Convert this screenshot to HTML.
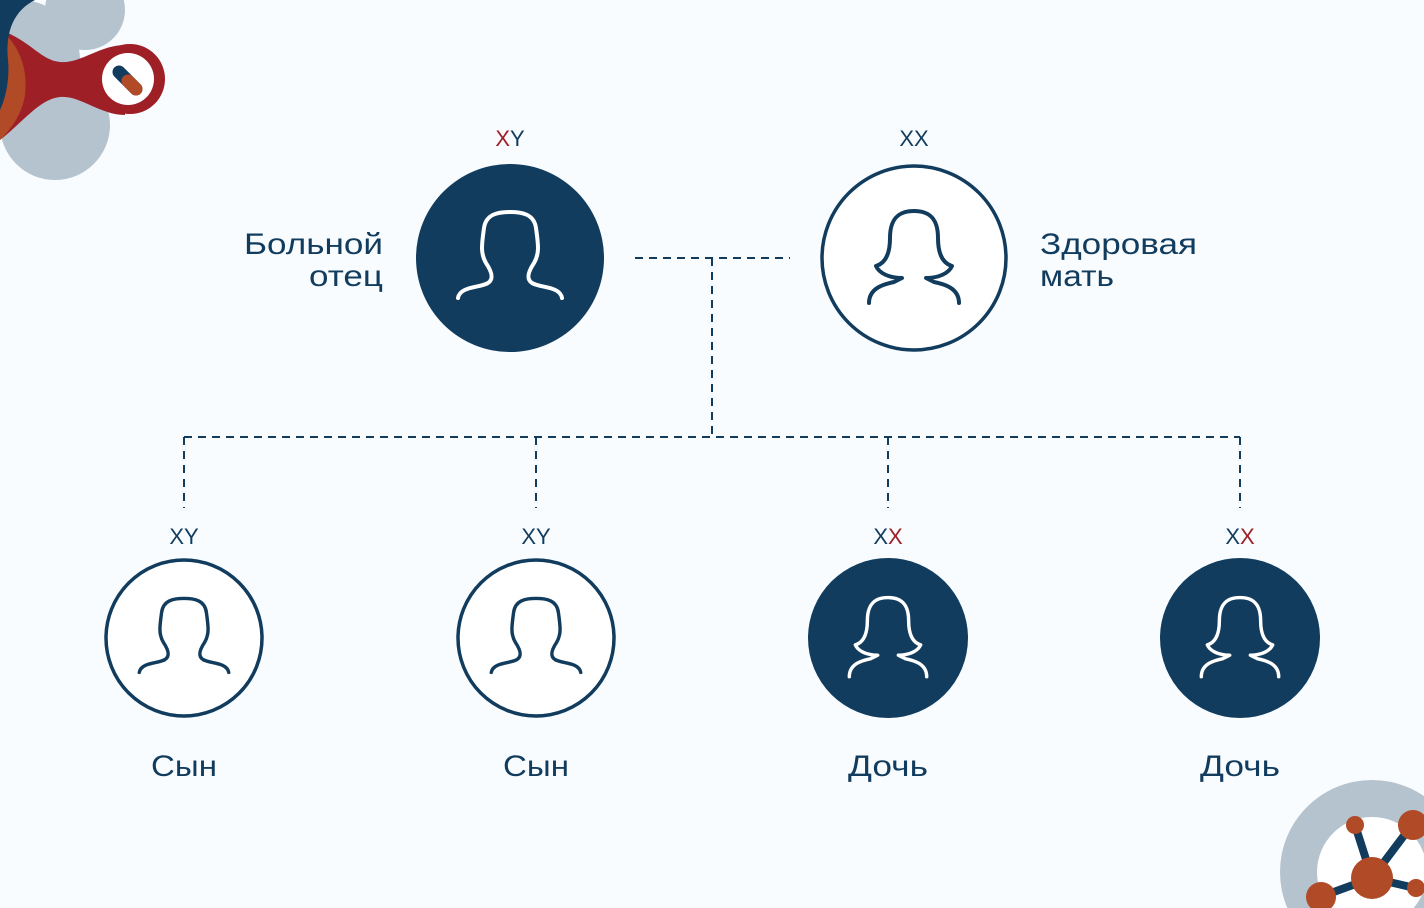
<!DOCTYPE html>
<html><head><meta charset="utf-8"><style>
html,body{margin:0;padding:0;background:#f8fcff;width:1424px;height:908px;overflow:hidden;}
svg{display:block;}
text{font-family:"Liberation Sans",sans-serif;fill:#123c5e;}
</style></head><body>
<svg width="1424" height="908" viewBox="0 0 1424 908" xmlns="http://www.w3.org/2000/svg">
<defs>
<path id="fem" d="M -45,45 C -45,30 -30,26 -20,24 L -12,20 C -25,20 -35,15 -38,8 C -28,5 -24,-5 -24,-20 C -24,-40 -15,-47 0,-47 C 15,-47 24,-40 24,-20 C 24,-5 28,5 38,8 C 35,15 25,20 12,20 L 20,24 C 30,26 45,30 45,45" fill="none" stroke-width="4" stroke-linecap="round" stroke-linejoin="round"/>
<path id="mal" d="M -52,40 C -50,28 -30,30 -22,25 C -16,21 -18,14 -24,5 C -30,-5 -28,-15 -26,-30 C -24,-44 -12,-46 0,-46 C 12,-46 24,-44 26,-30 C 28,-15 30,-5 24,5 C 18,14 16,21 22,25 C 30,30 50,28 52,40" fill="none" stroke-width="4" stroke-linecap="round" stroke-linejoin="round"/>
</defs>
<circle cx="85" cy="10" r="40" fill="#b5c3cf"/>
<circle cx="55" cy="125" r="55" fill="#b5c3cf"/>
<circle cx="20" cy="60" r="60" fill="#b5c3cf"/>
<path d="M0,30 C30,40 40,60 60,62 C80,64 100,45 125,45 L125,115 C100,115 80,95 60,97 C40,99 25,120 0,140 Z" fill="#9e1f26"/>
<path d="M0,30 C20,45 28,70 25,95 C22,115 10,130 0,140 Z" fill="#b04a27"/>
<path d="M0,0 L35,0 C15,10 5,30 8,60 C10,80 5,100 0,110 Z" fill="#123c5e"/>
<circle cx="130" cy="79" r="35" fill="#9e1f26"/>
<circle cx="128" cy="79" r="26" fill="#ffffff"/>
<line x1="119" y1="72" x2="136" y2="89" stroke="#123c5e" stroke-width="13" stroke-linecap="round"/>
<line x1="128" y1="81" x2="136" y2="89" stroke="#b04a27" stroke-width="13" stroke-linecap="round"/>
<circle cx="1372" cy="872" r="92" fill="#b5c3cf"/>
<circle cx="1372" cy="872" r="55" fill="#ffffff"/>
<g stroke="#123c5e" stroke-width="8">
<line x1="1372" y1="878" x2="1355" y2="825"/>
<line x1="1372" y1="878" x2="1412" y2="825"/>
<line x1="1372" y1="878" x2="1320" y2="897"/>
<line x1="1372" y1="878" x2="1415" y2="888"/>
</g>
<g fill="#b04a27">
<circle cx="1372" cy="878" r="21"/>
<circle cx="1355" cy="825" r="9"/>
<circle cx="1413" cy="825" r="15"/>
<circle cx="1321" cy="897" r="15"/>
<circle cx="1416" cy="888" r="9"/>
</g>
<g stroke="#123c5e" stroke-width="2" stroke-dasharray="8,6" fill="none">
<line x1="635" y1="258" x2="790" y2="258"/>
<line x1="712" y1="258" x2="712" y2="437"/>
<line x1="184" y1="437" x2="1240" y2="437"/>
<line x1="184" y1="437" x2="184" y2="508"/>
<line x1="536" y1="437" x2="536" y2="508"/>
<line x1="888" y1="437" x2="888" y2="508"/>
<line x1="1240" y1="437" x2="1240" y2="508"/>
</g>
<circle cx="510" cy="258" r="94" fill="#123c5e"/>
<use href="#mal" x="510" y="258" stroke="#ffffff"/>
<circle cx="914" cy="258" r="92" fill="#fff" stroke="#123c5e" stroke-width="3.5"/>
<use href="#fem" x="914" y="258" stroke="#123c5e"/>
<circle cx="184" cy="638" r="78" fill="#fff" stroke="#123c5e" stroke-width="3.5"/>
<use href="#mal" transform="translate(184,638) scale(0.86)" stroke="#123c5e"/>
<circle cx="536" cy="638" r="78" fill="#fff" stroke="#123c5e" stroke-width="3.5"/>
<use href="#mal" transform="translate(536,638) scale(0.86)" stroke="#123c5e"/>
<circle cx="888" cy="638" r="80" fill="#123c5e"/>
<use href="#fem" transform="translate(888,638) scale(0.86)" stroke="#fff"/>
<circle cx="1240" cy="638" r="80" fill="#123c5e"/>
<use href="#fem" transform="translate(1240,638) scale(0.86)" stroke="#fff"/>
<g font-size="22" text-anchor="middle">
<text x="510" y="146"><tspan style="fill:#9e1f26">X</tspan>Y</text>
<text x="914" y="146">XX</text>
<text x="184" y="544">XY</text>
<text x="536" y="544">XY</text>
<text x="888" y="544">X<tspan style="fill:#9e1f26">X</tspan></text>
<text x="1240" y="544">X<tspan style="fill:#9e1f26">X</tspan></text>
</g>
<g font-size="30">
<text x="244" y="254" textLength="139" lengthAdjust="spacingAndGlyphs">Больной</text>
<text x="309" y="286" textLength="74" lengthAdjust="spacingAndGlyphs">отец</text>
<text x="1040" y="254" textLength="157" lengthAdjust="spacingAndGlyphs">Здоровая</text>
<text x="1040" y="286" textLength="74" lengthAdjust="spacingAndGlyphs">мать</text>
<text x="151" y="776" textLength="66" lengthAdjust="spacingAndGlyphs">Сын</text>
<text x="503" y="776" textLength="66" lengthAdjust="spacingAndGlyphs">Сын</text>
<text x="848" y="776" textLength="80" lengthAdjust="spacingAndGlyphs">Дочь</text>
<text x="1200" y="776" textLength="80" lengthAdjust="spacingAndGlyphs">Дочь</text>
</g>
</svg>
</body></html>
